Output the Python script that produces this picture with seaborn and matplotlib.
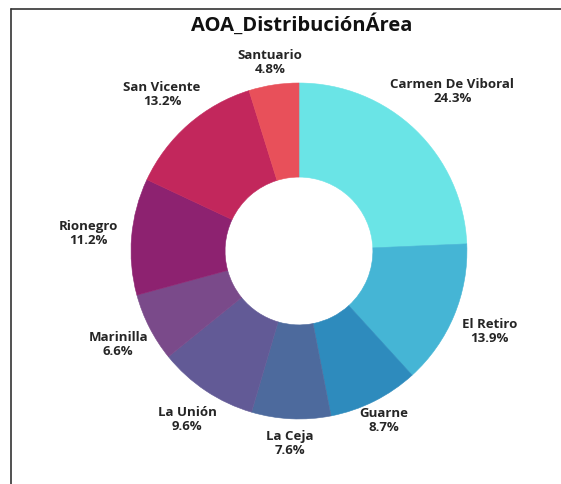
import numpy as np
import matplotlib
matplotlib.use("Agg")
import matplotlib.pyplot as plt
from matplotlib.lines import Line2D
import seaborn as sns

# data
areas = ["Carmen De Viboral", "El Retiro", "Guarne", "La Ceja", "La Unión",
         "Marinilla", "Rionegro", "San Vicente", "Santuario"]
shares = [24.3, 13.9, 8.7, 7.6, 9.6, 6.6, 11.2, 13.2, 4.8]
slice_colors = ["#6ae4e6", "#45b5d5", "#2e8bbd", "#4d6a9d", "#625a96",
                "#7a4a8a", "#8d2270", "#c2275c", "#e8505a"]
# how far out each label sits (in units of the outer radius)
label_dist = [1.32, 1.23, 1.12, 1.14, 1.20, 1.21, 1.26, 1.24, 1.14]

sns.set_theme(style="white")
plt.rcParams["font.family"] = ["Open Sans", "DejaVu Sans"]
palette = sns.color_palette(slice_colors)

fig = plt.figure(figsize=(5.61, 4.85), dpi=100)
ax = fig.add_axes([0, 0, 1, 1])

wedges, _ = ax.pie(shares, colors=palette, startangle=90, counterclock=False,
                   wedgeprops=dict(width=0.56, linewidth=0.4))
for w in wedges:
    w.set_edgecolor(w.get_facecolor())

total = sum(shares)
for w, name, val, d in zip(wedges, areas, shares, label_dist):
    mid = np.deg2rad((w.theta1 + w.theta2) / 2)
    ax.text(d * np.cos(mid), d * np.sin(mid), f"{name}\n{val / total * 100:.1f}%",
            ha="center", va="center", fontsize=9.5, fontweight="bold",
            color="#252525", linespacing=1.1)

ax.set_xlim(-1.780, 1.560)
ax.set_ylim(-1.387, 1.500)
ax.set_aspect("auto")
ax.axis("off")

fig.text(0.537, 0.948, "AOA_DistribuciónÁrea", ha="center", va="center",
         fontsize=14.5, fontweight="bold", color="#111111")

# frame lines on the left and top
fig.add_artist(Line2D([11 / 561, 11 / 561], [0, 1 - 10 / 485],
                      color="#333333", lw=1.2, transform=fig.transFigure))
fig.add_artist(Line2D([11 / 561, 1], [1 - 10 / 485, 1 - 10 / 485],
                      color="#333333", lw=1.2, transform=fig.transFigure))

fig.savefig("out.png", dpi=100)
